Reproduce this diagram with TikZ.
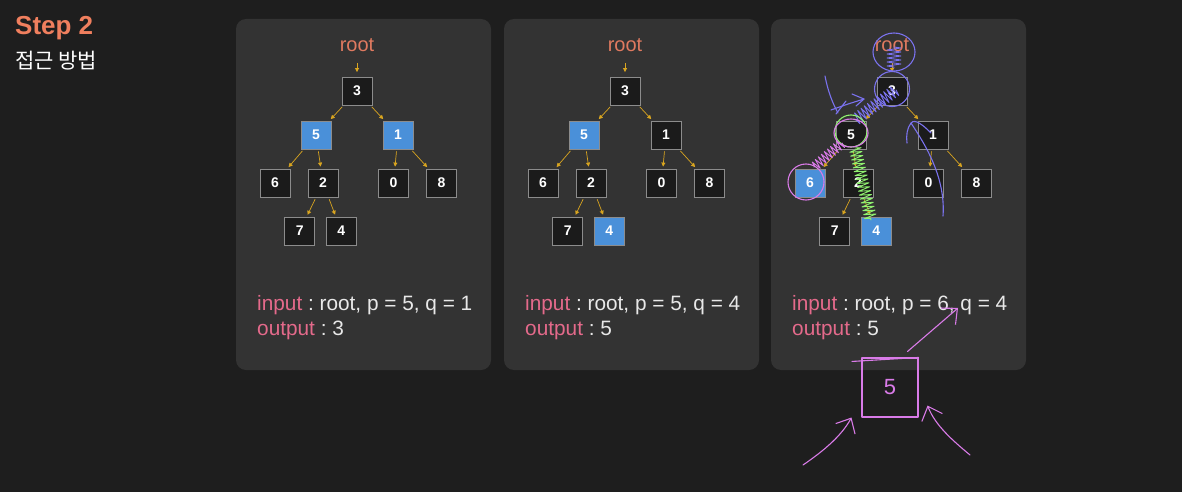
\documentclass[tikz,border=0pt]{standalone}
\usepackage{fontspec}
\setmainfont{Liberation Sans}
\newfontfamily\krfont{Noto Sans CJK KR}
\usepackage{xcolor}
\usepackage{tikz}
\usetikzlibrary{
  arrows.meta,
  positioning,
  calc,
  decorations.pathmorphing
}
\definecolor{bgdark}{HTML}{1E1E1E}
\definecolor{panelgray}{HTML}{333333}
\definecolor{boxdark}{HTML}{1B1B1B}
\definecolor{boxline}{HTML}{8C8C8C}
\definecolor{hlblue}{HTML}{4A90D9}
\definecolor{ptrgold}{HTML}{D9A520}
\definecolor{rootred}{HTML}{E07A60}
\definecolor{inpink}{HTML}{E46A8B}
\definecolor{txtgray}{HTML}{E8E8E8}
\definecolor{stepred}{HTML}{F07F5E}
\definecolor{penblue}{HTML}{7A72EE}
\definecolor{penpink}{HTML}{D97BE8}
\definecolor{pengreen}{HTML}{90F270}
\frenchspacing

\begin{document}
\begin{tikzpicture}[
  x=1pt, y=-1pt,
  sn/.style={draw=boxline, fill=boxdark, line width=0.8pt, minimum width=30pt, minimum height=28pt, inner sep=0pt, text=white, font=\fontsize{14}{16}\selectfont\bfseries},
  hn/.style={sn, fill=hlblue},
  ptr/.style={-{Triangle[length=4pt,width=4pt]}, ptrgold, line width=0.7pt, shorten <=2pt, shorten >=2pt},
  rootptr/.style={ptr, shorten <=11pt, shorten >=4.5pt},
  rootlbl/.style={text=rootred, inner sep=0pt, font=\fontsize{20}{22}\selectfont},
  intxt/.style={text=txtgray, inner sep=0pt, font=\fontsize{20.8}{24}\selectfont},
  pen/.style={line width=1.1pt, line cap=round, line join=round},
  zz/.style={line width=0.9pt, decorate, decoration={zigzag, amplitude=#1, segment length=4pt}},
  barb/.style={-{Straight Barb[length=12pt,width=22pt]}}
]
  % background and page size
  \fill[bgdark] (0,0) rectangle (1182,492);

  % title
  \node[text=stepred, inner sep=0pt, anchor=base west, font=\fontsize{26}{28}\selectfont\bfseries] (title) at (15,35) {Step 2};
  \node[text=white, inner sep=0pt, font=\krfont\fontsize{21}{24}\selectfont] (subtitle) at (56,61) {접근 방법};

  % panels
  \foreach \dx in {0,268,535} {
    \fill[panelgray, rounded corners=10pt] (236+\dx,19) rectangle (491+\dx,370);
  }

  % trees: panel / shift / style of 5, 1, 6, 4 / p, q, output
  \foreach \pn/\dx/\hfive/\hone/\hsix/\hfour/\pv/\qv/\ov in
    {a/0/hn/hn/sn/sn/5/1/3, b/268/hn/sn/sn/hn/5/4/5, c/535/sn/sn/hn/hn/6/4/5} {
    \node[rootlbl, anchor=base] (root\pn) at (357+\dx,51.7) {root};
    \node[sn]      (\pn3) at (357+\dx,91)    {3};
    \node[\hfive]  (\pn5) at (316+\dx,135)   {5};
    \node[\hone]   (\pn1) at (398+\dx,135)   {1};
    \node[\hsix]   (\pn6) at (275+\dx,183)   {6};
    \node[sn]      (\pn2) at (323+\dx,183)   {2};
    \node[sn]      (\pn0) at (393.5+\dx,183) {0};
    \node[sn]      (\pn8) at (441.5+\dx,183) {8};
    \node[sn]      (\pn7) at (299.7+\dx,231) {7};
    \node[\hfour]  (\pn4) at (341.3+\dx,231) {4};

    \draw[rootptr] (root\pn) -- (\pn3);
    \foreach \a/\b in {3/5,3/1,5/6,5/2,1/0,1/8,2/7,2/4} { \draw[ptr] (\pn\a) -- (\pn\b); }

    % input / output
    \node[intxt, anchor=base west] (in\pn) at (257+\dx,310.7) {\textcolor{inpink}{input} : root, p = \pv, q = \qv};
    \node[intxt, anchor=base west] (out\pn) at (257+\dx,335.5) {\textcolor{inpink}{output} : \ov};
  }

  % pen marks on the third panel
  \draw[pen, penblue] (894,52) ellipse [x radius=21, y radius=19];
  \draw[pen, penblue, zz=7pt] (894,47) -- (894,68);
  \draw[pen, penblue] (892,89) circle [radius=17.5];
  \draw[pen, penblue, zz=6pt] (896,90) -- (855,120);
  \draw[pen, penblue] (825,76) .. controls (828,92) and (833,104) .. (838,113);
  \draw[pen, penblue] (831,110) -- (848,104) -- (864,99) -- (852,94);
  \draw[pen, penblue] (864,99) -- (856,106);
  \draw[pen, penblue] (836,114) -- (846,101);
  \draw[pen, penblue] (931,133) .. controls (924,126) and (915,118) .. (911,123) .. controls (907,128) and (906,136) .. (907,143);
  \draw[pen, penblue] (911,123) .. controls (922,140) and (946,175) .. (943,216);

  \draw[pen, pengreen] (851,131) circle [radius=16];
  \draw[pen, pengreen, zz=6pt] (855,148) -- (871,220);

  \draw[pen, penpink] (851,133) ellipse [x radius=17, y radius=14];
  \draw[pen, penpink, zz=5pt] (842,143) -- (814,167);
  \draw[pen, penpink] (806,182) ellipse [x radius=18, y radius=18];

  % the answer box
  \node[pen, draw=penpink, minimum width=56pt, minimum height=59pt, text=penpink, font=\fontsize{22}{24}\selectfont] (five) at (890,387.5) {5};
  \draw[pen, penpink] ([shift={(-38,4)}]five.north) -- (five.north east);
  \coordinate (tipq) at (958,308);
  \coordinate (tailbl) at (803,465);
  \coordinate (tailbr) at (970,455);
  \draw[pen, penpink, barb] ([shift={(-11,-6)}]five.north east) -- (tipq);
  \draw[pen, penpink, barb] (tailbl) .. controls (825,450) and (842,435) .. ([xshift=-10pt]five.south west);
  \draw[pen, penpink, barb] (tailbr) .. controls (952,440) and (935,425) .. ([shift={(9,-12)}]five.south east);
\end{tikzpicture}
\end{document}
